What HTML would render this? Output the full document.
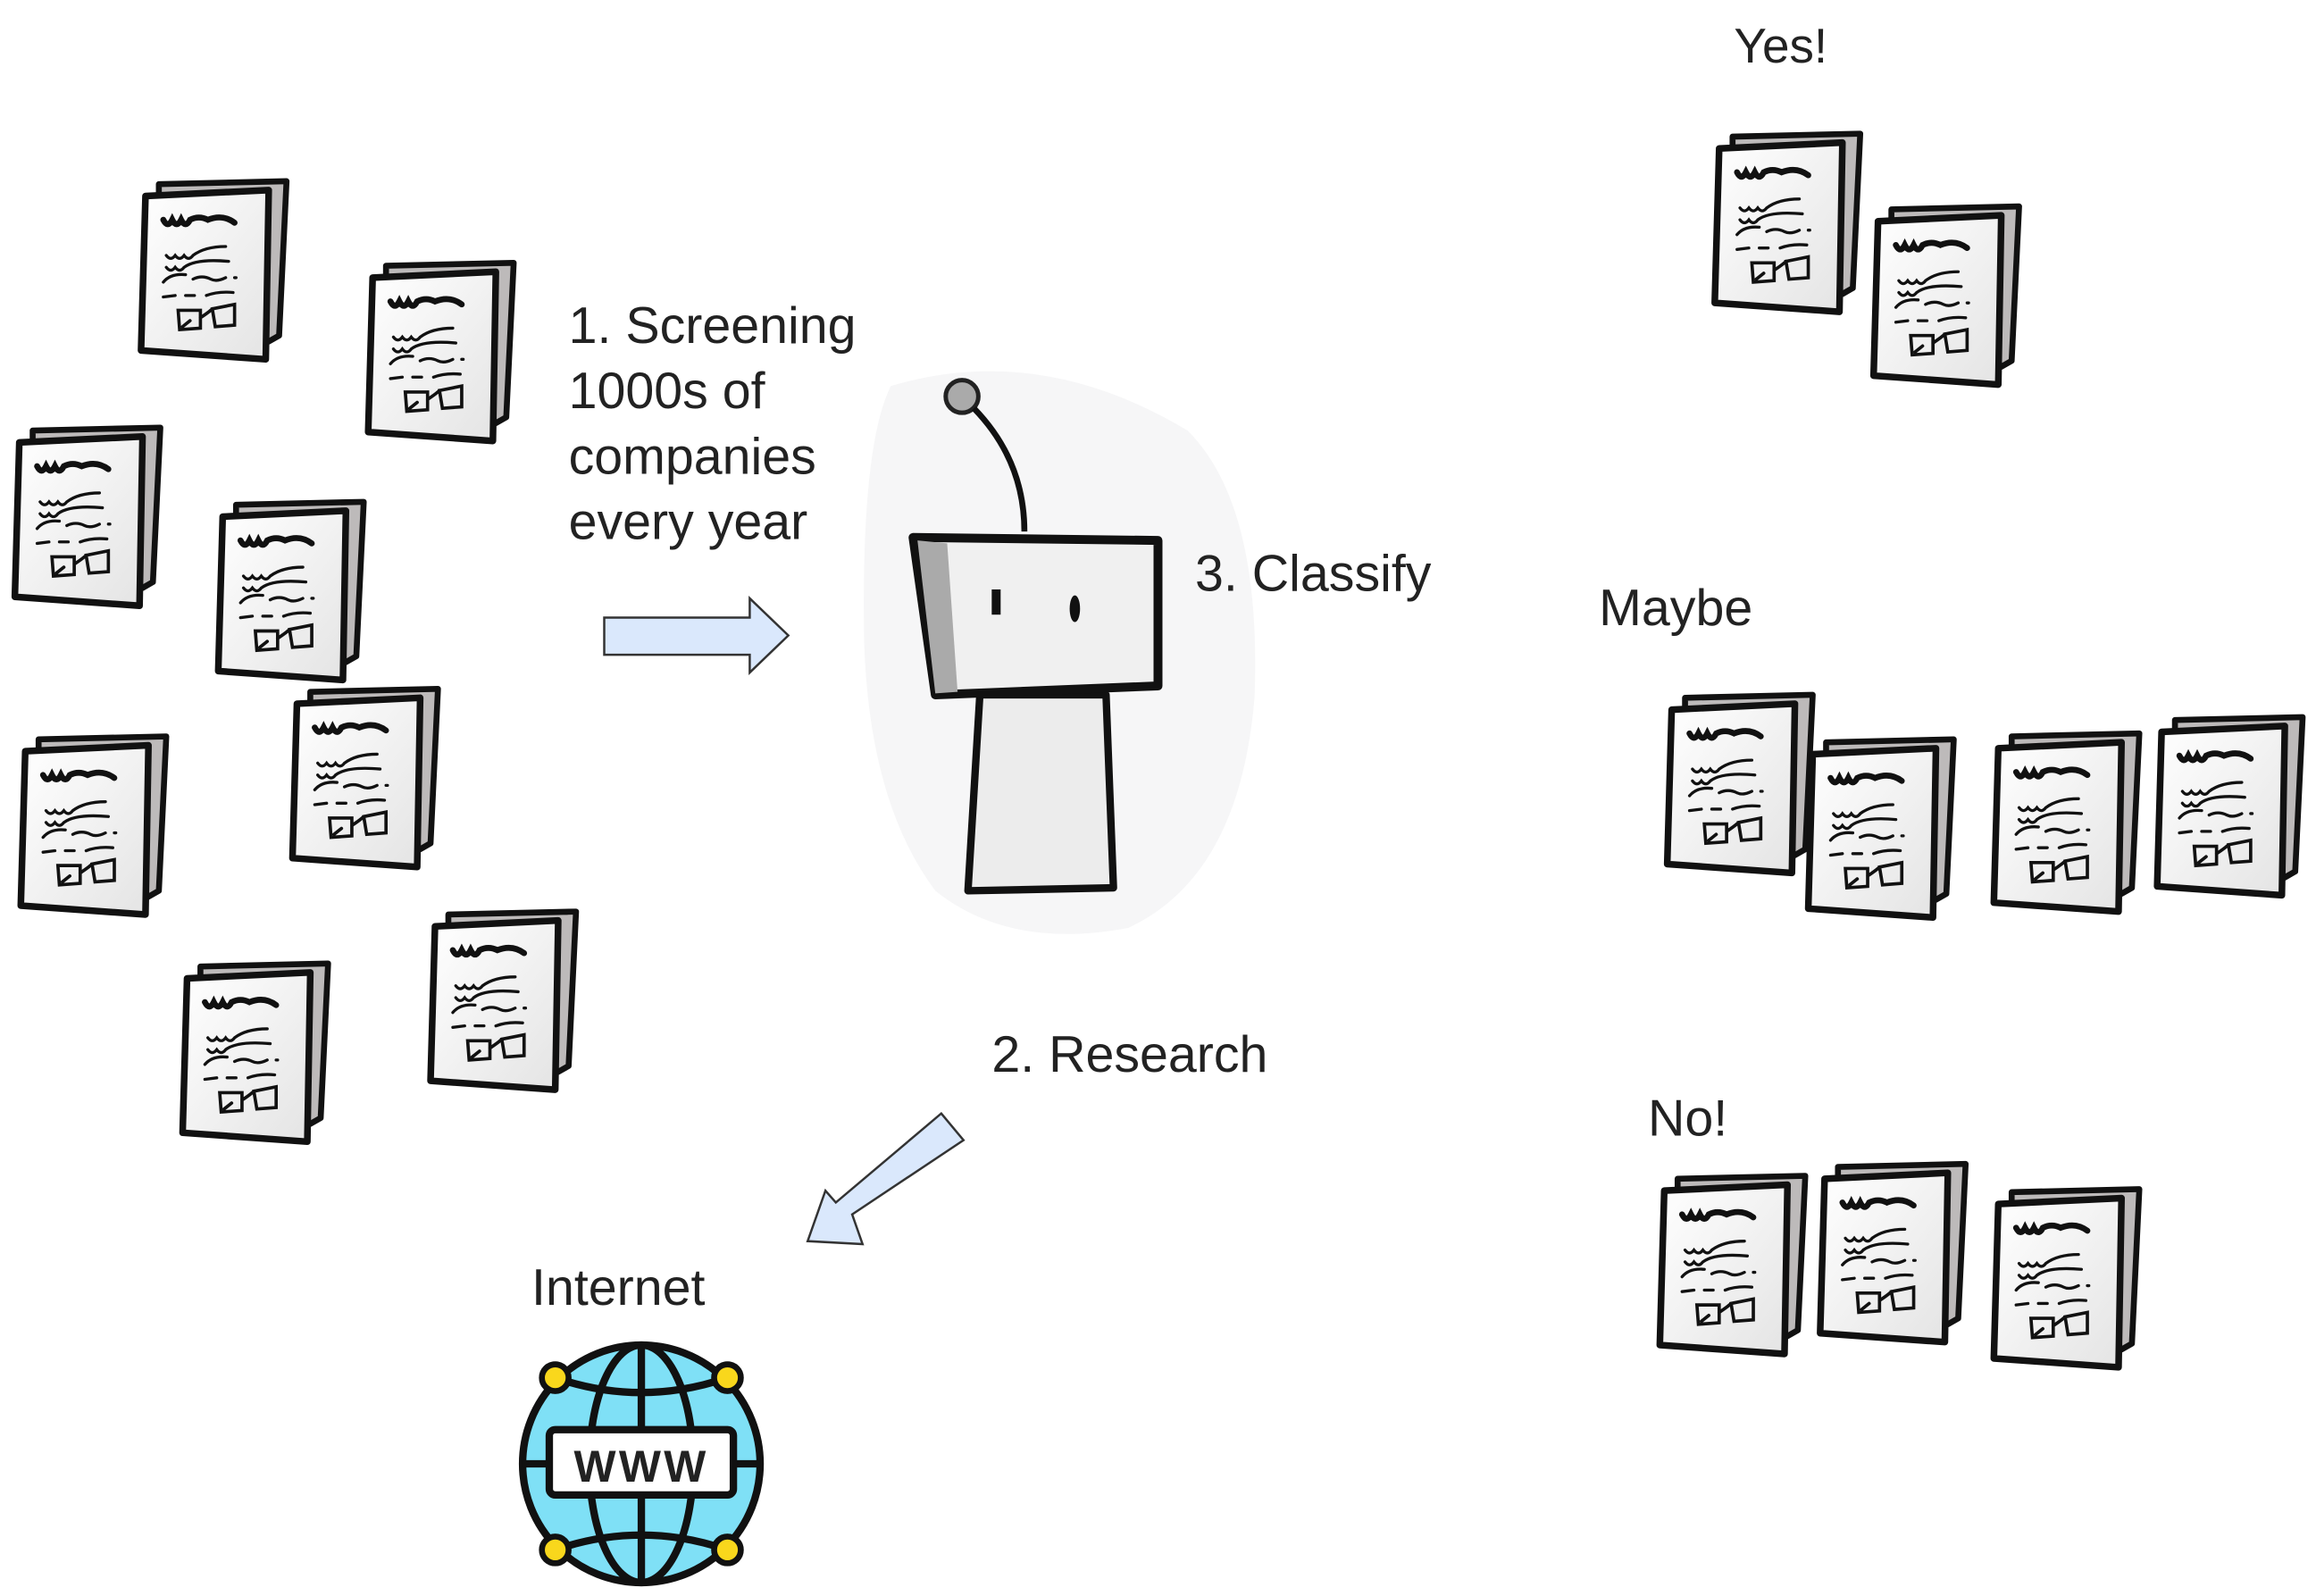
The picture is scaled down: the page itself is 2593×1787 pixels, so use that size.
<!DOCTYPE html>
<html><head><meta charset="utf-8"><style>html,body{margin:0;padding:0;background:#fff}svg{display:block}text{font-family:"Liberation Sans",sans-serif;fill:#222}</style></head>
<body>
<svg width="2593" height="1787" viewBox="0 0 1560 1075" xmlns="http://www.w3.org/2000/svg">
<defs>
<linearGradient id="pg" x1="0" y1="0" x2="1" y2="1"><stop offset="0" stop-color="#fff"/><stop offset="1" stop-color="#e4e4e4"/></linearGradient>
<symbol id="doc" viewBox="0 0 100 125" overflow="visible">
<path d="M12 6 L98 4 L93 108 L86 112 L12 110 Z" fill="#bdbaba" stroke="#111" stroke-width="4" stroke-linejoin="round"/>
<path d="M3 14 L86 10 L84 124 L0 118 Z" fill="url(#pg)" stroke="#111" stroke-width="4.5" stroke-linejoin="round"/>
<g fill="none" stroke="#111" stroke-linecap="round">
<path d="M15 30 q3 6 6 0 q3 6 6 0 q3 6 6 0 q6 -3 12 0 q10 -4 18 2" stroke-width="4"/>
<path d="M17 54 q3 4 6 0 q3 4 6 0 q3 4 6 0 q8 -6 22 -6" stroke-width="2"/>
<path d="M17 62 q3 4 6 0 q3 4 6 0 q8 -6 30 -4" stroke-width="2"/>
<path d="M15 72 q5 -6 15 -5 M35 70 q6 -3 12 0 q4 2 10 -1 M63 69 l1 0" stroke-width="2"/>
<path d="M15 82 l8 -1 M30 81 l6 0 M44 81 q8 -3 18 -2" stroke-width="2"/>
<path d="M25 91 l15 0 l0 12 l-14 1 z M40 96 q6 -4 8 -6 M48 90 l15 -3 l0 14 l-13 1 z M28 102 l5 -4" stroke-width="2.2"/>
</g>
</symbol>
</defs>
<g>
<use href="#doc" x="95" y="118" width="100" height="125"/>
<use href="#doc" x="248" y="173" width="100" height="125"/>
<use href="#doc" x="10" y="284" width="100" height="125"/>
<use href="#doc" x="147" y="334" width="100" height="125"/>
<use href="#doc" x="197" y="460" width="100" height="125"/>
<use href="#doc" x="14" y="492" width="100" height="125"/>
<use href="#doc" x="123" y="645" width="100" height="125"/>
<use href="#doc" x="290" y="610" width="100" height="125"/>
<use href="#doc" x="1155" y="86" width="100" height="125"/>
<use href="#doc" x="1262" y="135" width="100" height="125"/>
<use href="#doc" x="1123" y="464" width="100" height="125"/>
<use href="#doc" x="1218" y="494" width="100" height="125"/>
<use href="#doc" x="1343" y="490" width="100" height="125"/>
<use href="#doc" x="1453" y="479" width="100" height="125"/>
<use href="#doc" x="1118" y="788" width="100" height="125"/>
<use href="#doc" x="1226" y="780" width="100" height="125"/>
<use href="#doc" x="1343" y="797" width="100" height="125"/>
</g>
<path d="M407 416 L505 416 L505 403 L531 428 L505 453 L505 441 L407 441 Z" fill="#dae8fc" stroke="#333" stroke-width="1.5"/>
<path d="M634 750 L649 768 L574 818 L581 838 L544 836 L556 802 L563 810 Z" fill="#dae8fc" stroke="#333" stroke-width="1.5"/>
<!-- robot -->
<path d="M600 260 Q700 230 800 290 Q850 340 845 470 Q835 590 760 625 Q680 640 630 600 Q585 540 582 430 Q580 300 600 260 Z" fill="#f6f6f7"/>
<circle cx="648" cy="267" r="11" fill="#aaa" stroke="#222" stroke-width="3"/>
<path d="M656 275 Q690 310 690 358" fill="none" stroke="#111" stroke-width="4"/>
<path d="M660 468 L745 468 L750 598 L652 600 Z" fill="#ececec" stroke="#111" stroke-width="5" stroke-linejoin="round"/>
<path d="M615 362 L780 364 L780 462 L630 468 Z" fill="#f0f0f0" stroke="#111" stroke-width="6" stroke-linejoin="round"/>
<path d="M618 364 L638 366 L645 466 L630 467 Z" fill="#aaa"/>
<rect x="668" y="397" width="6" height="17" fill="#111"/>
<ellipse cx="724" cy="410" rx="3.5" ry="9" fill="#111"/>
<text x="1168" y="42" font-size="33">Yes!</text>
<text font-size="34.5"><tspan x="383" y="231">1. Screening</tspan><tspan x="383" y="275">1000s of</tspan><tspan x="383" y="319">companies</tspan><tspan x="383" y="363">every year</tspan></text>
<text x="805" y="398" font-size="34.5">3. Classify</text>
<text x="1077" y="421" font-size="34.5">Maybe</text>
<text x="668" y="722" font-size="34.5">2. Research</text>
<text x="1110" y="765" font-size="34.5">No!</text>
<text x="358" y="879" font-size="34.5">Internet</text>
<!-- globe -->
<circle cx="432" cy="986" r="80" fill="#7fe0f6" stroke="#111" stroke-width="5"/>
<ellipse cx="432" cy="986" rx="35" ry="80" fill="none" stroke="#111" stroke-width="5"/>
<line x1="432" y1="906" x2="432" y2="1066" stroke="#111" stroke-width="5"/>
<path d="M374 928 Q432 948 490 928 M374 1044 Q432 1024 490 1044" fill="none" stroke="#111" stroke-width="5"/>
<line x1="352" y1="986" x2="512" y2="986" stroke="#111" stroke-width="5"/>
<rect x="370" y="963" width="124" height="44" rx="4" fill="#fff" stroke="#111" stroke-width="5"/>
<text x="432" y="998" font-size="30" font-weight="bold" text-anchor="middle" style="letter-spacing:2px">WWW</text>
<g fill="#f9d71c" stroke="#111" stroke-width="4"><circle cx="374" cy="928" r="9"/><circle cx="490" cy="928" r="9"/><circle cx="374" cy="1044" r="9"/><circle cx="490" cy="1044" r="9"/></g>
</svg>
</body></html>
